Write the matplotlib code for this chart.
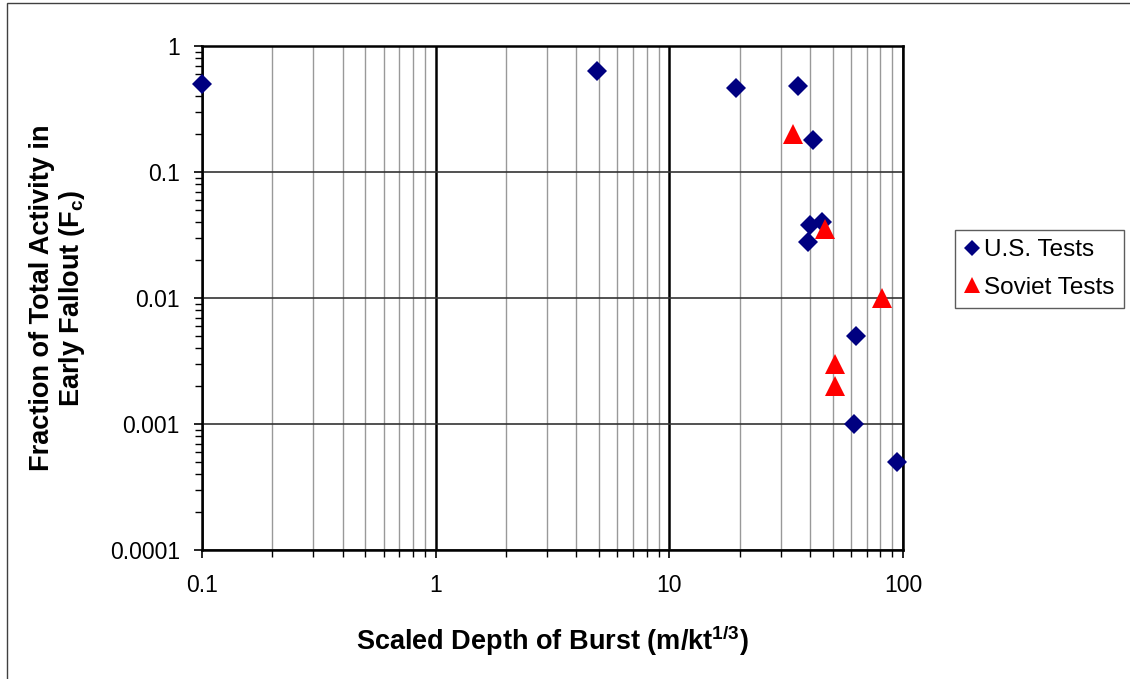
import matplotlib
matplotlib.use("Agg")
import matplotlib.pyplot as plt
from matplotlib.ticker import FixedLocator, FixedFormatter, NullFormatter, LogLocator
from matplotlib.patches import Rectangle

plt.rcParams['font.family'] = ['Liberation Sans', 'DejaVu Sans']
plt.rcParams['mathtext.fontset'] = 'custom'
plt.rcParams['mathtext.rm'] = 'Liberation Sans:bold'
plt.rcParams['mathtext.bf'] = 'Liberation Sans:bold'
plt.rcParams['mathtext.it'] = 'Liberation Sans:bold'

# data
us_x = [0.1, 4.9, 19.3, 35.5, 41.3, 40, 45, 39.2, 62.7, 61.5, 94.2]
us_y = [0.5, 0.63, 0.46, 0.48, 0.18, 0.038, 0.040, 0.028, 0.005, 0.001, 0.0005]
sov_x = [33.8, 46.4, 81.5, 51, 51]
sov_y = [0.2, 0.035, 0.01, 0.003, 0.002]

x_ticks = [0.1, 1, 10, 100]
x_labels = ['0.1', '1', '10', '100']
y_ticks = [0.0001, 0.001, 0.01, 0.1, 1]
y_labels = ['0.0001', '0.001', '0.01', '0.1', '1']

fig = plt.figure(figsize=(11.3, 6.79), dpi=100)
ax = fig.add_axes([202/1130, 1-550/679, 701/1130, 504/679])

ax.set_xscale('log')
ax.set_yscale('log')
ax.set_xlim(0.1, 100)
ax.set_ylim(0.0001, 1)

# gridlines: vertical minor gray, vertical major black, horizontal major dark
ax.xaxis.set_minor_locator(LogLocator(base=10, subs=range(2, 10)))
ax.yaxis.set_minor_locator(LogLocator(base=10, subs=range(2, 10)))
ax.xaxis.set_minor_formatter(NullFormatter())
ax.yaxis.set_minor_formatter(NullFormatter())
ax.xaxis.set_major_locator(FixedLocator(x_ticks))
ax.xaxis.set_major_formatter(FixedFormatter(x_labels))
ax.yaxis.set_major_locator(FixedLocator(y_ticks))
ax.yaxis.set_major_formatter(FixedFormatter(y_labels))

ax.grid(True, which='minor', axis='x', color='#999999', linewidth=1.0)
ax.grid(True, which='major', axis='x', color='black', linewidth=1.8)
ax.grid(True, which='major', axis='y', color='#333333', linewidth=1.2)
ax.set_axisbelow(True)

for s in ax.spines.values():
    s.set_linewidth(1.8)
    s.set_color('black')

ax.tick_params(which='major', direction='out', length=6, width=1.2, labelsize=16.5)
ax.tick_params(which='minor', direction='out', length=5, width=1.0)
ax.tick_params(axis='x', which='major', pad=11)
ax.tick_params(axis='y', which='major', pad=10)

ax.plot(us_x, us_y, linestyle='none', marker='D', markersize=10, color='#000080',
        markeredgewidth=0, label='U.S. Tests', clip_on=False, zorder=3)
ax.plot(sov_x, sov_y, linestyle='none', marker='^', markersize=14, color='#FF0000',
        markeredgewidth=0, label='Soviet Tests', clip_on=False, zorder=3)

ax.set_xlabel(r'Scaled Depth of Burst (m/kt$^{1/3}$)', fontsize=19.5, fontweight='bold')
ax.xaxis.set_label_coords(0.5, (550-623)/504)
ax.set_ylabel('Fraction of Total Activity in\nEarly Fallout (F$_{c}$)', fontsize=19.5,
              fontweight='bold', linespacing=1.1)
ax.yaxis.set_label_coords((87-202)/701, 0.5)

leg = ax.legend(loc='center left', bbox_to_anchor=(955/1130, 1-269/679), bbox_transform=fig.transFigure,
                fontsize=17.5, frameon=True, fancybox=False, borderpad=0.4, handlelength=0.6,
                handletextpad=0.2, labelspacing=0.62, borderaxespad=0)
leg.get_frame().set_edgecolor('#333333')
leg.get_frame().set_linewidth(1.0)
leg.legend_handles[0].set_markersize(8)
leg.legend_handles[1].set_markersize(11)

# outer chart-area border
fig.patches.append(Rectangle((7/1130, -0.05), 1.2, 1-3/679+0.05, transform=fig.transFigure,
                             fill=False, edgecolor='#404040', linewidth=1.0))

fig.savefig('out.png', dpi=100)
